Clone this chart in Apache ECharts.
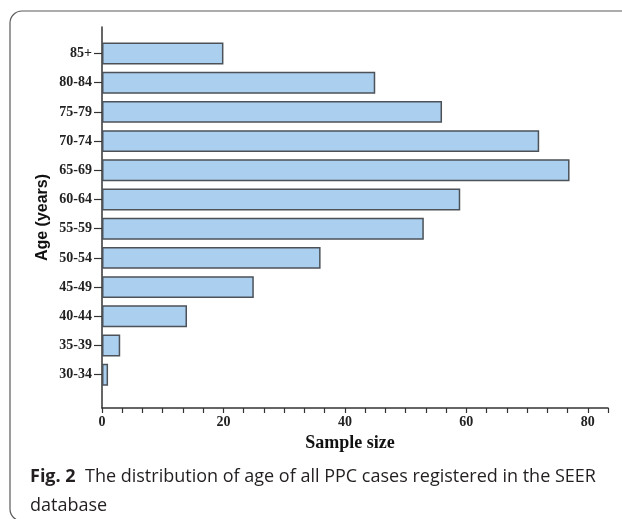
<!DOCTYPE html>
<html>
<head>
<meta charset="utf-8">
<script src="https://cdn.jsdelivr.net/npm/echarts@6/dist/echarts.min.js"></script>
<style>
html,body{margin:0;padding:0;background:#fff;}
#chart{width:622px;height:519px;}
</style>
</head>
<body>
<div id="chart"></div>
<script>
// Age groups (top to bottom as drawn)
var ageGroups = ['85+', '80-84', '75-79', '70-74', '65-69', '60-64', '55-59', '50-54', '45-49', '40-44', '35-39', '30-34'];
// Sample size per age group
var sampleSizes = [20, 45, 56, 72, 77, 59, 53, 36, 25, 14, 3, 1];
// X-axis tick labels
var xTickLabels = [0, 20, 40, 60, 80];
var xMax = 250 / 3;
var xStep = 10 / 3;

var chart = echarts.init(document.getElementById('chart'), null, {renderer: 'canvas'});
var serif = '"Liberation Serif", "Times New Roman", serif';

var option = {
  animation: false,
  backgroundColor: '#ffffff',
  title: {
    left: 25,
    top: 457,
    text: '{b|Fig. 2}  The distribution of age of all PPC cases registered in the SEER\ndatabase',
    textStyle: {
      fontFamily: '"Open Sans", sans-serif',
      fontSize: 18,
      fontWeight: 'normal',
      color: '#231f20',
      lineHeight: 29,
      rich: {
        b: {fontFamily: '"Open Sans", sans-serif', fontSize: 18, fontWeight: 'bold', color: '#231f20', lineHeight: 29}
      }
    }
  },
  graphic: [{
    type: 'rect',
    shape: {x: 10, y: 11, width: 640, height: 510, r: 12},
    style: {fill: null, stroke: '#5a5a5a', lineWidth: 1.2},
    silent: true
  }],
  grid: [
    {left: 102, right: 14, top: 27, bottom: 111},
    {left: 102, right: 14, top: 38.9, bottom: 129.7}
  ],
  xAxis: [{
    gridIndex: 0,
    type: 'value',
    min: 0,
    max: xMax,
    interval: xStep,
    axisLine: {show: true, lineStyle: {color: '#333', width: 1.5}},
    axisTick: {show: true, length: 5, lineStyle: {color: '#333', width: 1.2}},
    splitLine: {show: false},
    axisLabel: {
      margin: 7,
      fontFamily: serif,
      fontWeight: 'bold',
      fontSize: 14,
      color: '#222',
      showMaxLabel: true,
      showMinLabel: true,
      formatter: function (v) {
        for (var i = 0; i < xTickLabels.length; i++) {
          if (Math.abs(v - xTickLabels[i]) < 1e-6) return String(xTickLabels[i]);
        }
        return '';
      }
    },
    name: 'Sample size',
    nameLocation: 'middle',
    nameGap: 25,
    nameTextStyle: {fontFamily: serif, fontWeight: 'bold', fontSize: 18, color: '#111', padding: [0, 10, 0, 0]}
  }, {
    gridIndex: 1,
    type: 'value',
    min: 0,
    max: xMax,
    show: false
  }],
  yAxis: [{
    gridIndex: 0,
    type: 'value',
    min: 0,
    max: 1,
    axisLine: {show: true, lineStyle: {color: '#333', width: 1.5}},
    axisTick: {show: false},
    axisLabel: {show: false},
    splitLine: {show: false},
    name: 'Age (years)',
    nameLocation: 'middle',
    nameRotate: 90,
    nameGap: 51,
    nameTextStyle: {fontFamily: '"Liberation Sans", Arial, sans-serif', fontWeight: 'bold', fontSize: 16, color: '#111'}
  }, {
    gridIndex: 1,
    type: 'category',
    data: ageGroups,
    inverse: true,
    axisLine: {show: false},
    axisTick: {show: true, alignWithLabel: true, length: 8, lineStyle: {color: '#333', width: 1.2}},
    axisLabel: {margin: 10, fontFamily: serif, fontWeight: 'bold', fontSize: 14, color: '#222'},
    splitLine: {show: false}
  }],
  series: [{
    type: 'bar',
    xAxisIndex: 1,
    yAxisIndex: 1,
    data: sampleSizes,
    barCategoryGap: '25%',
    itemStyle: {color: '#abcfee', borderColor: '#4c5258', borderWidth: 1.5},
    silent: true
  }]
};
chart.setOption(option);
</script>
</body>
</html>
